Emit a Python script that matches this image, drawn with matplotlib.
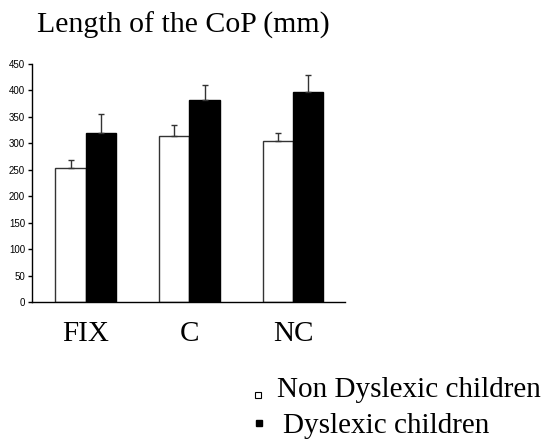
import matplotlib
matplotlib.use("Agg")
import matplotlib.pyplot as plt
import numpy as np
from matplotlib.lines import Line2D

# 数据
conditions = ["FIX", "C", "NC"]
non_dyslexic = [254, 313, 305]
non_dyslexic_err = [14, 22, 15]
dyslexic = [319, 381, 397]
dyslexic_err = [37, 30, 33]
legend_labels = ["Non Dyslexic children", "Dyslexic children"]
yticks = np.arange(0, 451, 50)

SERIF = ["Liberation Serif", "DejaVu Serif"]
SANS = ["Liberation Sans", "DejaVu Sans"]
W, H = 543, 440

fig = plt.figure(figsize=(W / 100, H / 100), dpi=100)
ax = fig.add_axes([32 / W, 1 - 302 / H, (345 - 32) / W, (302 - 64) / H])

x = np.arange(len(conditions))
w = 0.29
ax.bar(x - w / 2, non_dyslexic, w, color="white", edgecolor="#333333", linewidth=1.0,
       yerr=[np.zeros(len(x)), non_dyslexic_err], capsize=2.5,
       error_kw=dict(elinewidth=1.0, capthick=1.0, ecolor="#333333"), zorder=2)
ax.bar(x + w / 2, dyslexic, w, color="black", edgecolor="black", linewidth=1.0,
       yerr=[np.zeros(len(x)), dyslexic_err], capsize=2.5,
       error_kw=dict(elinewidth=1.0, capthick=1.0, ecolor="#333333"), zorder=2)

ax.set_xlim(-0.516, 2.497)
ax.set_ylim(0, 450)
ax.set_yticks(yticks)
ax.set_yticklabels([str(v) for v in yticks], fontsize=7, family=SANS)
ax.set_xticks(x)
ax.set_xticklabels(conditions, fontsize=21, family=SERIF)
ax.tick_params(axis="x", length=0, pad=14)
ax.tick_params(axis="y", length=3, width=1, pad=2, direction="out")

for side in ["top", "right"]:
    ax.spines[side].set_visible(False)
ax.spines["left"].set_linewidth(1.0)
ax.spines["bottom"].set_linewidth(1.0)

fig.text(37 / W, 1 - 33 / H, "Length of the CoP (mm)", fontsize=21.5,
         family=SERIF, ha="left", va="baseline")

# 图例：手动放置方块和文字
fig.add_artist(Line2D([258 / W], [1 - 394.5 / H], marker="s", linestyle="none",
                      markersize=4.3, markerfacecolor="white",
                      markeredgecolor="black", markeredgewidth=0.8,
                      transform=fig.transFigure))
fig.add_artist(Line2D([258.7 / W], [1 - 423 / H], marker="s", linestyle="none",
                      markersize=4.3, markerfacecolor="black",
                      markeredgecolor="black", transform=fig.transFigure))
fig.text(277 / W, 1 - 397 / H, legend_labels[0], fontsize=21, family=SERIF,
         ha="left", va="baseline")
fig.text(283 / W, 1 - 433 / H, legend_labels[1], fontsize=21, family=SERIF,
         ha="left", va="baseline")

plt.savefig("out.png", dpi=100)
plt.close()
